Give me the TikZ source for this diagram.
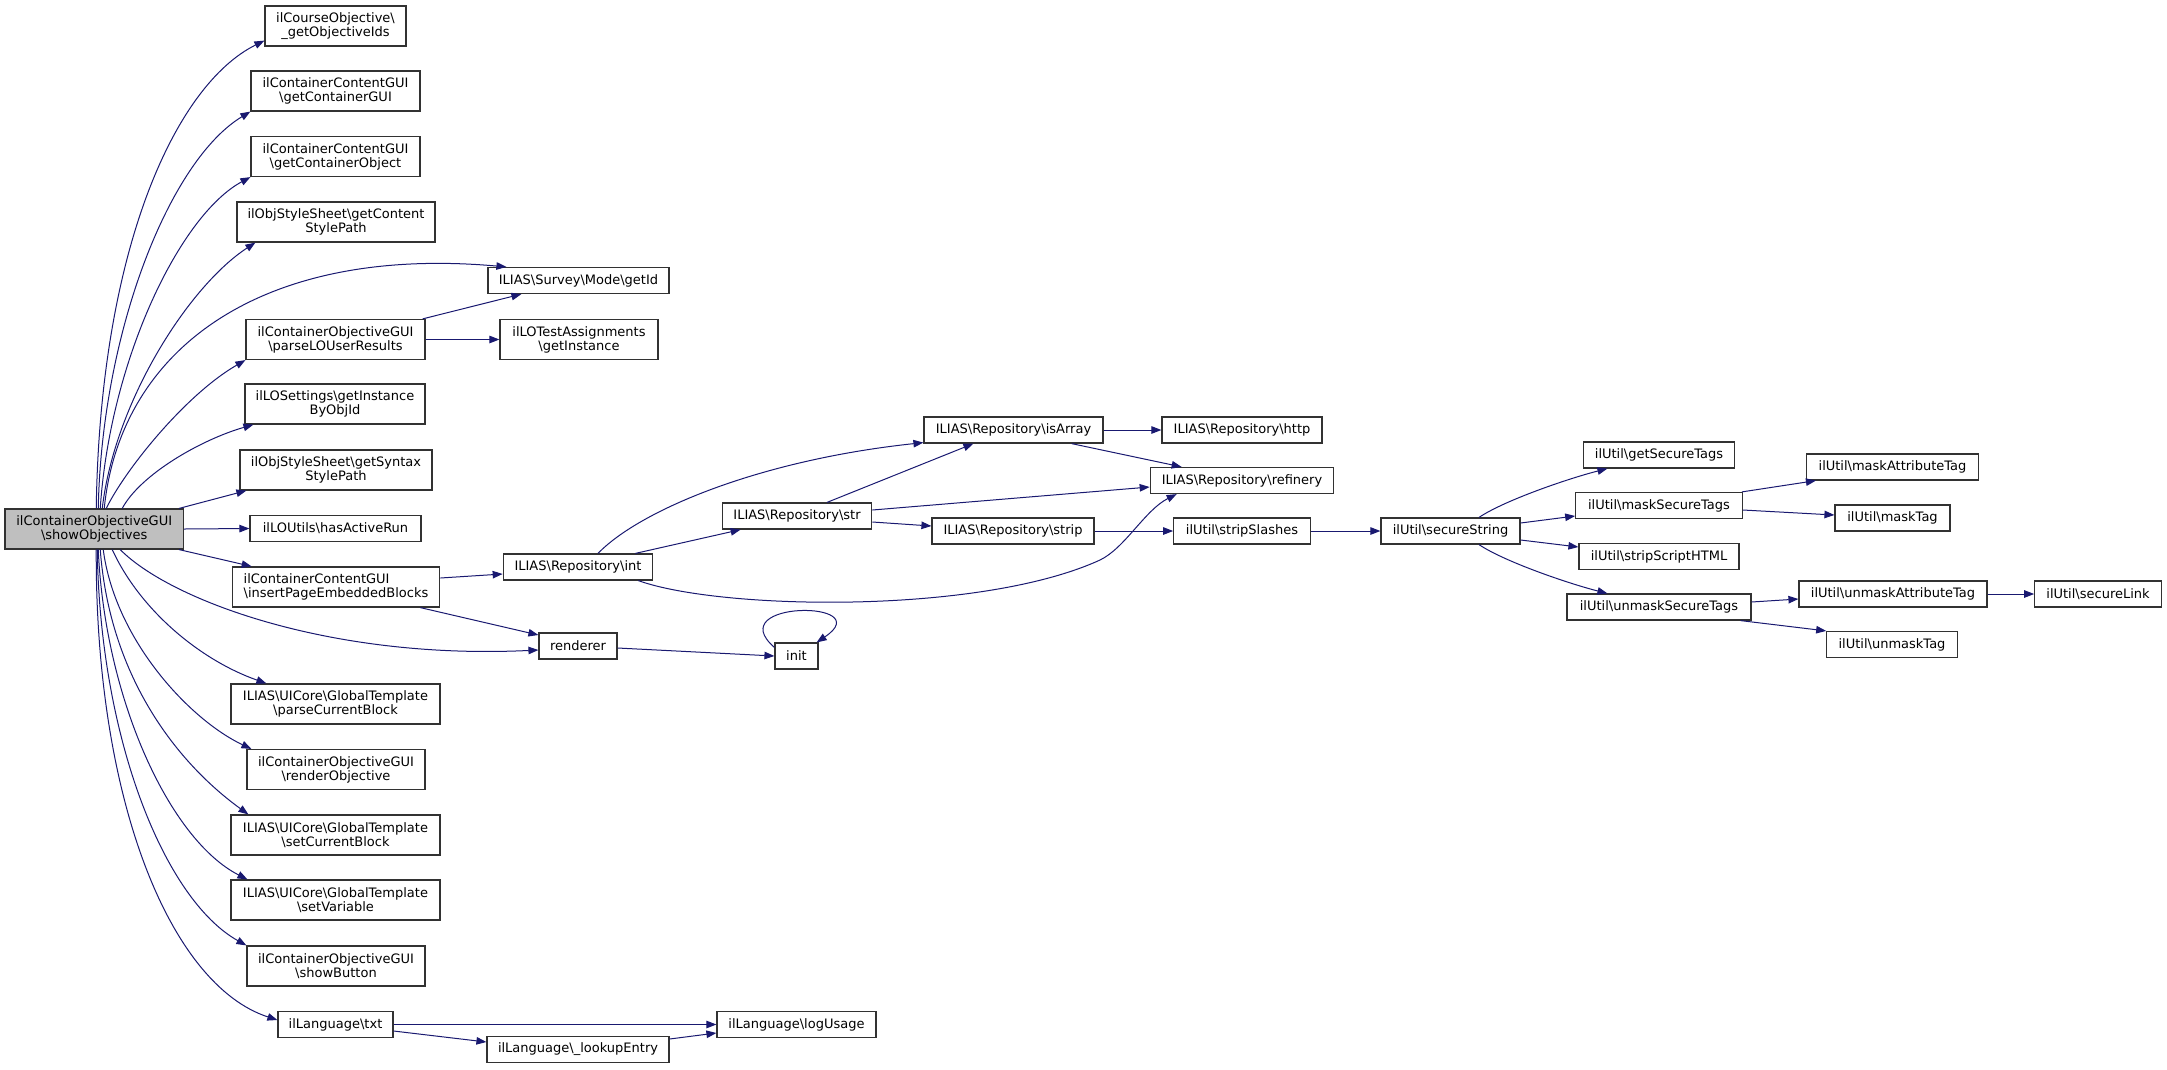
\documentclass[tikz,border=0pt]{standalone}
\usepackage{fontspec}
\setmainfont{DejaVu Sans}
\usetikzlibrary{arrows.meta}
\definecolor{edgeblue}{RGB}{25,25,112}
\definecolor{boxline}{RGB}{50,50,50}
\definecolor{mainfill}{RGB}{191,191,191}
\newcommand{\bsx}{\textbackslash}
\begin{document}
\begin{tikzpicture}[x=1pt,y=-1pt,
  fn/.style={draw=boxline, line width=1.2pt, fill=white, inner sep=0pt, align=center,
    font=\fontsize{13}{14}\selectfont, minimum height=26pt},
  two/.style={minimum height=40pt},
  call/.style={draw=edgeblue, line width=1pt, -{Triangle[length=10pt,width=7.5pt]}}]
\useasboundingbox (0,0) rectangle (2167,1069);
% nodes
\node[fn,two,fill=mainfill,minimum width=178.5pt] (main) at (94.25,529) {ilContainerObjectiveGUI\\\bsx showObjectives};
\node[fn,two,minimum width=141pt] (coi) at (335.5,26) {ilCourseObjective\bsx\\\_getObjectiveIds};
\node[fn,two,minimum width=169pt] (ccg) at (335.5,91) {ilContainerContentGUI\\\bsx getContainerGUI};
\node[fn,two,minimum width=169pt] (cco) at (335.5,156.5) {ilContainerContentGUI\\\bsx getContainerObject};
\node[fn,two,minimum width=198pt] (csp) at (336,222) {ilObjStyleSheet\bsx getContent\\StylePath};
\node[fn,minimum width=181pt] (gid) at (578.5,280.5) {ILIAS\bsx Survey\bsx Mode\bsx getId};
\node[fn,two,minimum width=179pt] (plr) at (335.5,339.5) {ilContainerObjectiveGUI\\\bsx parseLOUserResults};
\node[fn,two,minimum width=158pt] (lta) at (579,339.5) {ilLOTestAssignments\\\bsx getInstance};
\node[fn,two,minimum width=180pt] (gio) at (335,404) {ilLOSettings\bsx getInstance\\ByObjId};
\node[fn,two,minimum width=192pt] (ssp) at (336,470) {ilObjStyleSheet\bsx getSyntax\\StylePath};
\node[fn,minimum width=171pt] (har) at (335.5,528.5) {ilLOUtils\bsx hasActiveRun};
\node[fn,two,minimum width=207.5pt,align=left] (ipe) at (336,587) {ilContainerContentGUI\\\bsx insertPageEmbeddedBlocks};
\node[fn,minimum width=149.5pt] (rint) at (578,567) {ILIAS\bsx Repository\bsx int};
\node[fn,minimum width=78pt] (rend) at (578,646) {renderer};
\node[fn,two,minimum width=209pt] (pcb) at (335.5,704) {ILIAS\bsx UICore\bsx GlobalTemplate\\\bsx parseCurrentBlock};
\node[fn,two,minimum width=178pt] (rob) at (336,769.5) {ilContainerObjectiveGUI\\\bsx renderObjective};
\node[fn,two,minimum width=209pt] (scb) at (335.5,835) {ILIAS\bsx UICore\bsx GlobalTemplate\\\bsx setCurrentBlock};
\node[fn,two,minimum width=209pt] (svar) at (335.5,900) {ILIAS\bsx UICore\bsx GlobalTemplate\\\bsx setVariable};
\node[fn,two,minimum width=178pt] (sbtn) at (336,966) {ilContainerObjectiveGUI\\\bsx showButton};
\node[fn,minimum width=115pt] (ltxt) at (335.5,1024.5) {ilLanguage\bsx txt};
\node[fn,minimum width=159pt] (lusage) at (796.5,1024.5) {ilLanguage\bsx logUsage};
\node[fn,minimum width=182pt] (lentry) at (578,1049.5) {ilLanguage\bsx\_lookupEntry};
\node[fn,minimum width=179pt] (isarr) at (1013.5,430) {ILIAS\bsx Repository\bsx isArray};
\node[fn,minimum width=160pt] (http) at (1242,430) {ILIAS\bsx Repository\bsx http};
\node[fn,minimum width=183.5pt] (refi) at (1242,480.5) {ILIAS\bsx Repository\bsx refinery};
\node[fn,minimum width=149.5pt] (rstr) at (797,516) {ILIAS\bsx Repository\bsx str};
\node[fn,minimum width=162pt] (rstrip) at (1013,531) {ILIAS\bsx Repository\bsx strip};
\node[fn,minimum width=136.5pt] (sslash) at (1242,531) {ilUtil\bsx stripSlashes};
\node[fn,minimum width=43pt] (init) at (796.5,656) {init};
\node[fn,minimum width=139pt] (sstr) at (1450.5,531) {ilUtil\bsx secureString};
\node[fn,minimum width=151pt] (gst) at (1659,455) {ilUtil\bsx getSecureTags};
\node[fn,minimum width=166.5pt] (mst) at (1659,505.5) {ilUtil\bsx maskSecureTags};
\node[fn,minimum width=160pt] (ssh) at (1659,556.5) {ilUtil\bsx stripScriptHTML};
\node[fn,minimum width=184pt] (ust) at (1659,607) {ilUtil\bsx unmaskSecureTags};
\node[fn,minimum width=172pt] (mat) at (1892.5,467) {ilUtil\bsx maskAttributeTag};
\node[fn,minimum width=115pt] (mtag) at (1892.5,518) {ilUtil\bsx maskTag};
\node[fn,minimum width=188pt] (uat) at (1893,594) {ilUtil\bsx unmaskAttributeTag};
\node[fn,minimum width=130.5pt] (utag) at (1892,644.5) {ilUtil\bsx unmaskTag};
\node[fn,minimum width=126.5pt] (slink) at (2098,594) {ilUtil\bsx secureLink};
% edges from main, upwards
\draw[call] ([xshift=2pt]main.north) .. controls (100,250) and (175,85) .. ([yshift=6pt]coi.south west);
\draw[call] ([xshift=4pt]main.north) .. controls (102,330) and (170,160) .. (ccg.south west);
\draw[call] ([xshift=6pt]main.north) .. controls (110,360) and (180,215) .. (cco.south west);
\draw[call] ([xshift=8pt]main.north) .. controls (115,400) and (190,285) .. ([xshift=19pt]csp.south west);
\draw[call] ([xshift=10pt]main.north) .. controls (120,350) and (260,245) .. ([xshift=19pt]gid.north west);
\draw[call] ([xshift=12pt]main.north) .. controls (125,470) and (185,395) .. (plr.south west);
\draw[call] ([xshift=28pt]main.north) .. controls (140,475) and (200,440) .. ([xshift=9pt]gio.south west);
\draw[call] ([xshift=-5pt]main.north east) -- ([xshift=7pt]ssp.south west);
\draw[call] (main.east) -- (har.west);
\draw[call] ([xshift=-5pt]main.south east) -- ([xshift=20pt]ipe.north west);
% edges from main, downwards
\draw[call] ([xshift=26pt]main.south) .. controls (170,600) and (330,660) .. ([yshift=-4pt]rend.west);
\draw[call] ([xshift=18pt]main.south) .. controls (140,610) and (200,660) .. ([xshift=36pt]pcb.north west);
\draw[call] ([xshift=9pt]main.south) .. controls (115,640) and (190,720) .. ([xshift=5pt]rob.north west);
\draw[call] ([xshift=6pt]main.south) .. controls (110,680) and (180,765) .. ([xshift=18pt]scb.north west);
\draw[call] ([xshift=4pt]main.south) .. controls (105,700) and (170,840) .. ([xshift=17pt]svar.north west);
\draw[call] ([xshift=3pt]main.south) .. controls (100,740) and (165,900) .. (sbtn.north west);
\draw[call] ([xshift=2pt]main.south) .. controls (95,800) and (170,985) .. ([yshift=4.5pt]ltxt.west);
% other edges
\draw[call] ([xshift=-3pt]plr.north east) -- ([xshift=34pt]gid.south west);
\draw[call] (plr.east) -- (lta.west);
\draw[call] ([yshift=9pt]ipe.east) -- ([yshift=-7pt]rint.west);
\draw[call] ([xshift=-20pt]ipe.south east) -- ([yshift=11pt]rend.west);
\draw[call] ([xshift=20pt]rint.north) .. controls (640,510) and (760,460) .. ([yshift=1pt]isarr.south west);
\draw[call] ([xshift=-18pt]rint.north east) -- ([xshift=19pt]rstr.south west);
\draw[call] ([xshift=-15pt]rint.south east) .. controls (720,610) and (980,615) .. (1100,560) .. controls (1125,548) and (1145,510) .. ([xshift=27pt]refi.south west);
\draw[call] ([xshift=30pt]rstr.north) -- ([xshift=50pt]isarr.south west);
\draw[call] ([yshift=6pt]rstr.east) -- ([yshift=-6.5pt]refi.west);
\draw[call] ([yshift=-6pt]rstr.east) -- ([yshift=5pt]rstrip.west);
\draw[call] (isarr.east) -- (http.west);
\draw[call] ([xshift=-32pt]isarr.south east) -- ([xshift=32pt]refi.north west);
\draw[call] (rstrip.east) -- (sslash.west);
\draw[call] (sslash.east) -- (sstr.west);
\draw[call] ([yshift=-2pt]rend.east) -- (init.west);
\draw[call] ([yshift=-5pt]init.north west) .. controls (720,600) and (880,600) .. ([xshift=-2pt]init.north east);
\draw[call] (ltxt.east) -- (lusage.west);
\draw[call] ([yshift=-6.5pt]ltxt.east) -- ([yshift=7.5pt]lentry.west);
\draw[call] ([yshift=10.5pt]lentry.east) -- ([yshift=-8.5pt]lusage.west);
\draw[call] ([xshift=28.5pt]sstr.north) .. controls (1505,500) and (1570,478) .. ([xshift=24.5pt]gst.south west);
\draw[call] ([yshift=8pt]sstr.east) -- ([yshift=-10.5pt]mst.west);
\draw[call] ([yshift=-9pt]sstr.east) -- ([yshift=9.5pt]ssh.west);
\draw[call] ([xshift=28.5pt]sstr.south) .. controls (1505,562) and (1570,584) .. ([xshift=41pt]ust.north west);
\draw[call] ([xshift=-1pt]mst.north east) -- ([xshift=10pt]mat.south west);
\draw[call] ([yshift=-4.5pt]mst.east) -- ([yshift=3pt]mtag.west);
\draw[call] ([yshift=5pt]ust.east) -- ([yshift=-5pt]uat.west);
\draw[call] ([xshift=-11pt]ust.south east) -- (utag.north west);
\draw[call] (uat.east) -- (slink.west);
\end{tikzpicture}
\end{document}
